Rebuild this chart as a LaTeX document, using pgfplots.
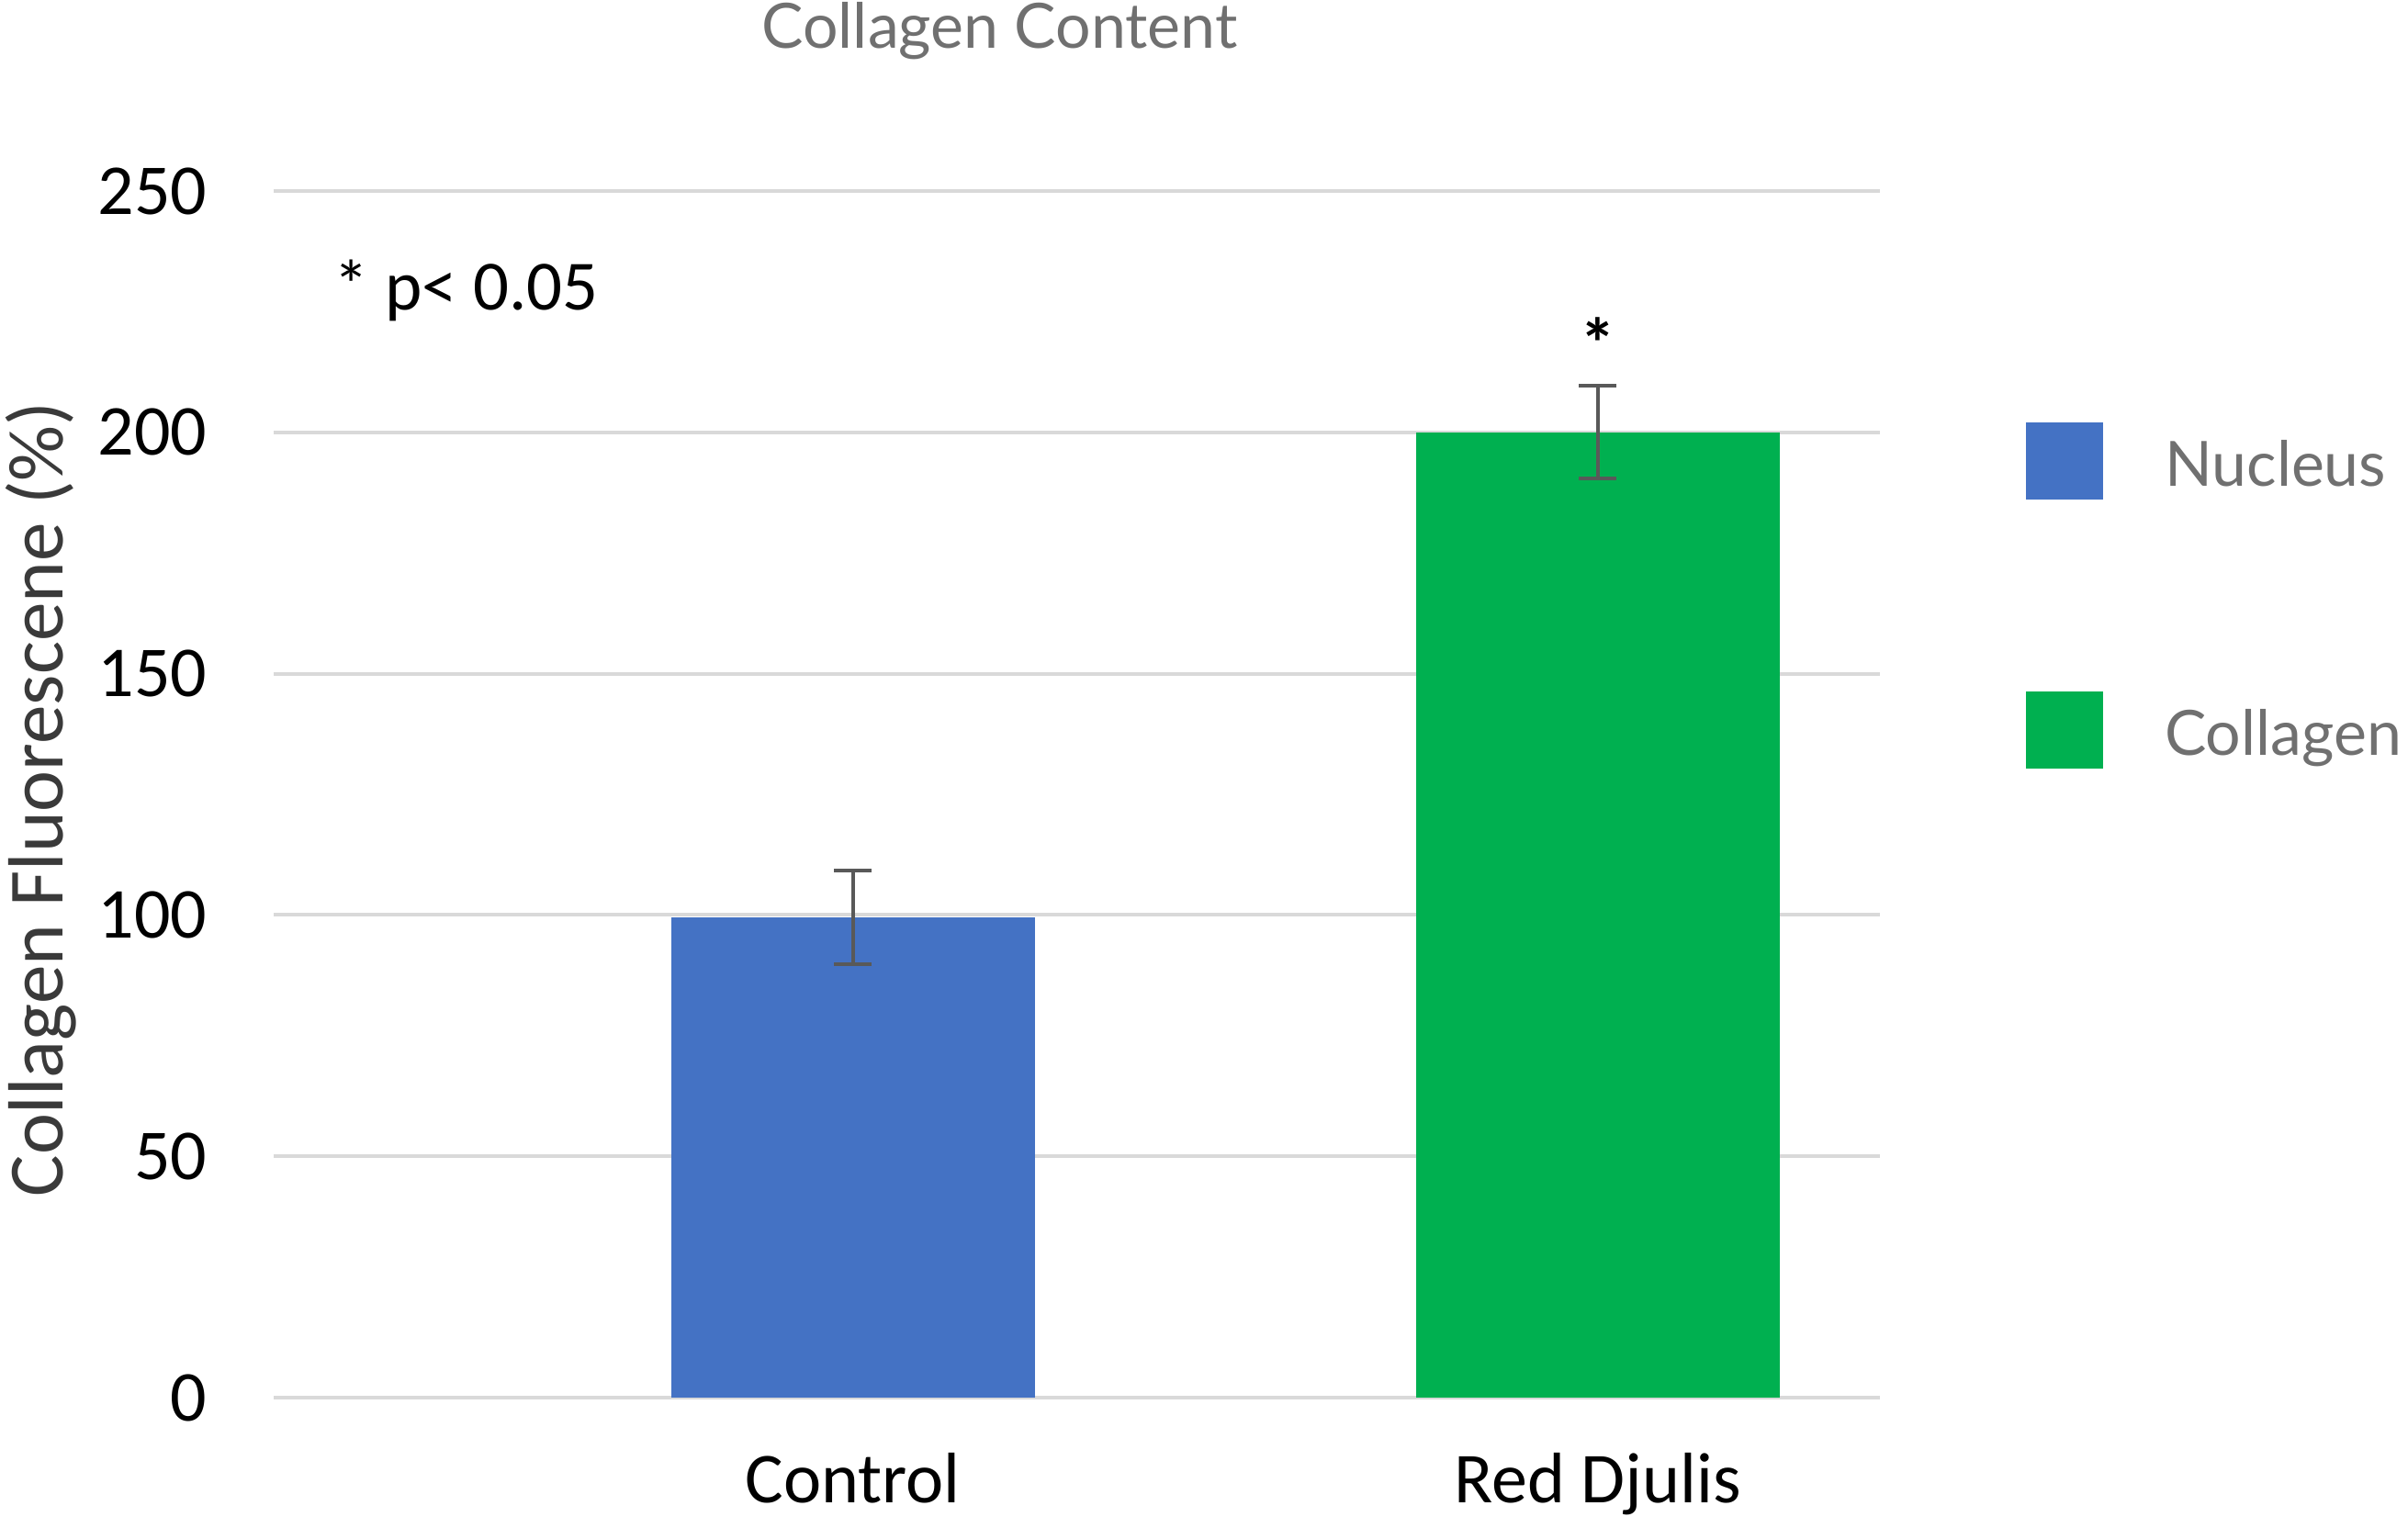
\documentclass[border=0pt]{standalone}
\usepackage{fontspec}
\setmainfont{Carlito}
\newfontfamily\prox{Lato}
\usepackage{pgfplots}
\pgfplotsset{compat=1.18}
\definecolor{barblue}{HTML}{4472C4}
\definecolor{bargreen}{HTML}{00B050}
\definecolor{gridgray}{HTML}{D9D9D9}
\definecolor{errgray}{HTML}{595959}
\definecolor{txtgray}{HTML}{707070}
\definecolor{labgray}{HTML}{3A3A3A}
\begin{document}
\begin{tikzpicture}
\path[use as bounding box] (0,0) rectangle (655.5pt,412.75pt);
\begin{axis}[
  at={(74.5pt,32.25pt)}, anchor=south west,
  scale only axis, width=437.25pt, height=328.5pt,
  xmin=-0.778, xmax=1.379, ymin=0, ymax=250,
  ytick={0,50,100,150,200,250},
  xtick={0,1}, xticklabels={Control, Red Djulis},
  axis line style={draw=none},
  major tick length=0pt,
  ymajorgrids, grid style={gridgray, line width=1pt},
  tick label style={font=\fontsize{19.5}{22}\selectfont, inner sep=0pt, black},
  yticklabel style={anchor=east, xshift=-18pt},
  xticklabel style={anchor=base, yshift=-28.5pt},
  /pgf/number format/assume math mode=true,
  ylabel={Collagen Fluorescene (\%)},
  every axis y label/.style={at={(axis description cs:-0.145,0.496)}, rotate=90, anchor=center, font=\fontsize{21.3}{24}\selectfont, text=labgray, inner sep=0pt},
  title={Collagen Content},
  title style={at={(axis description cs:0.452,1.0997)}, anchor=base, yshift=0pt, font=\prox\fontsize{17}{20}\selectfont, text=txtgray, inner sep=0pt},
  clip=false,
  legend image code/.code={\draw[#1,/tikz/.cd,draw=none] (0pt,-10.5pt) rectangle (21pt,10.5pt);},
  legend cell align=left,
  legend style={draw=none, fill=none, at={(axis description cs:1.091,0.808)}, anchor=north west, inner sep=0pt, outer sep=0pt, row sep=52.3pt, nodes={inner sep=0pt, text height=13.5pt, text depth=0pt, font=\prox\fontsize{17}{20}\selectfont, text=txtgray}, /tikz/every odd column/.style={column sep=16.75pt}},
]
\addplot[ybar, bar width=0.488, bar shift=0pt, fill=barblue, draw=none,
  error bars/.cd, y dir=both, y explicit,
  error bar style={draw=errgray, line width=1pt},
  error mark options={rotate=90, draw=errgray, line width=1pt, mark size=5.1pt}]
  coordinates {(0,99.5) +- (0,9.7)};
\addlegendentry{Nucleus}
\addplot[ybar, bar width=0.488, bar shift=0pt, fill=bargreen, draw=none,
  error bars/.cd, y dir=both, y explicit,
  error bar style={draw=errgray, line width=1pt},
  error mark options={rotate=90, draw=errgray, line width=1pt, mark size=5.1pt}]
  coordinates {(1,200) +- (0,9.6)};
\addlegendentry{Collagen}
\node[anchor=base west, font=\fontsize{19.2}{22}\selectfont, inner sep=0pt] at (axis cs:-0.698,225.3) {* p< 0.05};
\node[anchor=base, font=\bfseries\fontsize{19.5}{22}\selectfont, inner sep=0pt] at (axis cs:1,213.1) {*};
\end{axis}
\end{tikzpicture}
\end{document}
